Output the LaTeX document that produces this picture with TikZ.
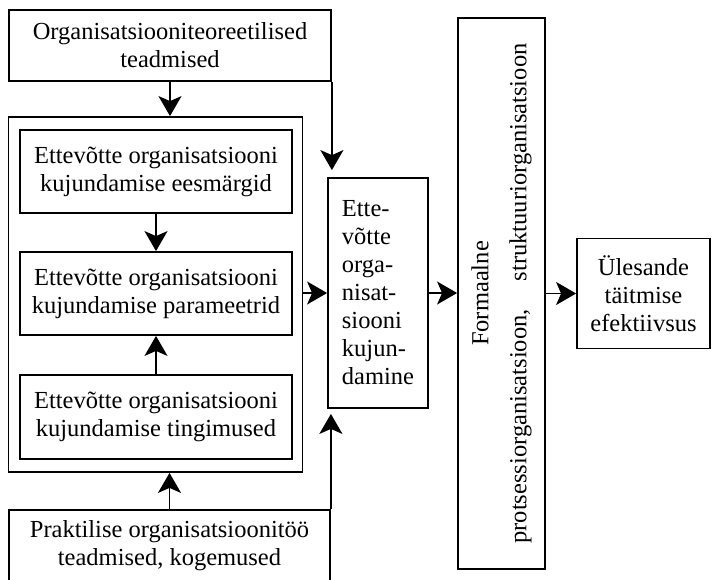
\documentclass[tikz,border=0pt]{standalone}
\usepackage{fontspec}
\setmainfont{Liberation Serif}
\usetikzlibrary{arrows.meta}
\tikzset{%
  kast/.style  = {shape=rectangle, draw, line width=1.8pt, align=center,%
                  inner sep=4pt, font=\fontsize{24.5}{28}\selectfont},%
  raam/.style  = {shape=rectangle, draw, line width=1.8pt},%
  nool/.style  = {line width=1.8pt, -{Stealth[length=20pt,width=23pt,inset=5pt]}}%
}

\begin{document}
\begin{tikzpicture}[x=1pt,y=-1pt]
\useasboundingbox (0,0) rectangle (712,579);
% vasak plokk
\node [kast, minimum width=322pt, minimum height=71pt] (teooria) at (170,45.5)
  {Organisatsiooniteoreetilised\\teadmised};
\node [raam, minimum width=294pt, minimum height=355pt] (raamistik) at (155.5,294.5) {};
\node [kast, minimum width=272pt, minimum height=83pt] (eesmargid) at (156,171.5)
  {Ettevõtte organisatsiooni\\kujundamise eesmärgid};
\node [kast, minimum width=272pt, minimum height=83pt] (parameetrid) at (156,293.5)
  {Ettevõtte organisatsiooni\\kujundamise parameetrid};
\node [kast, minimum width=272pt, minimum height=84pt] (tingimused) at (156,417)
  {Ettevõtte organisatsiooni\\kujundamise tingimused};
\node [kast, minimum width=321pt, minimum height=71pt] (praktika) at (169.5,545.5)
  {Praktilise organisatsioonitöö\\teadmised, kogemused};
% parem pool
\node [kast, align=left, minimum width=100pt, minimum height=230pt] (kujundamine) at (378,293)
  {Ette-\\võtte\\orga-\\nisat-\\siooni\\kujun-\\damine};
\node [kast, rotate=90, minimum width=551pt, minimum height=87pt] (formaalne) at (501.5,293.5)
  {Formaalne\\[10pt]protsessiorganisatsioon,\hspace{28pt}struktuuriorganisatsioon};
\node [kast, minimum width=133pt, minimum height=110pt] (tulemus) at (643.5,293.5)
  {Ülesande\\täitmise\\efektiivsus};
% nooled
\draw [nool] (teooria.south) -- (teooria.south |- raamistik.north);
\draw [nool] (eesmargid) -- (parameetrid);
\draw [nool] (tingimused) -- (parameetrid);
\draw [nool] (praktika.north) -- (praktika.north |- raamistik.south);
\draw [nool] (raamistik.east |- kujundamine) -- (kujundamine);
\draw [nool, shorten >=7pt] (teooria.south east) -- (teooria.south east |- kujundamine.north);
\draw [nool, shorten >=5pt] (praktika.north east) -- (praktika.north east |- kujundamine.south);
\draw [nool] (kujundamine.east) -- (kujundamine.east -| formaalne.north);
\draw [nool] (formaalne.south) -- (formaalne.south -| tulemus.west);
\end{tikzpicture}
\end{document}
